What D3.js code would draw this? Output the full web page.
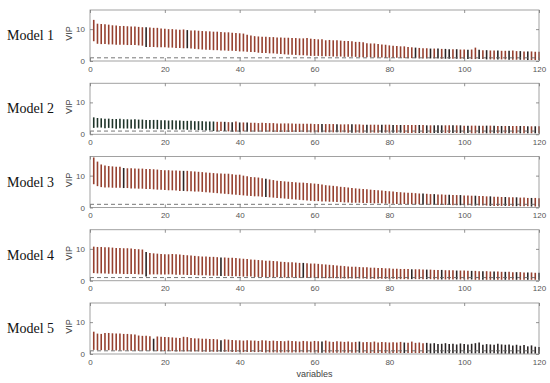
<!DOCTYPE html>
<html>
<head>
<meta charset="utf-8">
<script src="https://cdn.jsdelivr.net/npm/d3@7"></script>
<style>
  body { margin: 0; background: #fff; }
  svg text { font-family: Arial, "Liberation Sans", sans-serif; }
</style>
</head>
<body>
<div id="my_dataviz"></div>
<script>
// models (panel titles)
var models = ["Model 1", "Model 2", "Model 3", "Model 4", "Model 5"];
var xTicks = [0, 20, 40, 60, 80, 100, 120];
var yTicks = [0, 10];
var threshold = 1;

// upper / lower VIP bounds per variable (1..120)
var model1High = [12.9,11.7,11.6,11.5,11.4,11.2,11.1,11.0,11.0,10.9, 10.8,10.8,10.7,10.6,10.6,10.5,10.4,10.4,10.2,10.1,
  10.0,10.0,9.9,9.8,9.9,9.7,9.6,9.6,9.5,9.4, 9.3,9.3,9.2,9.2,9.1,9.0,9.0,8.9,8.8,8.7,
  8.6,8.2,8.0,7.8,7.7,7.6,7.6,7.5,7.5,7.4, 7.4,7.3,7.3,7.2,7.2,7.1,7.1,7.2,7.0,6.9,
  6.8,6.8,6.5,6.6,6.5,6.5,6.4,6.3,6.3,6.2, 6.0,6.0,5.9,5.6,5.5,5.5,5.3,5.2,5.1,4.9,
  4.8,4.7,4.6,4.6,4.4,4.3,4.2,4.1,4.0,4.0, 3.9,3.9,3.9,3.8,3.8,3.7,3.7,3.7,3.6,3.6,
  3.5,3.6,4.2,3.5,3.4,3.4,3.3,3.3,3.3,3.2, 3.2,3.2,3.3,3.1,3.1,3.0,3.0,3.0,2.9,2.9];
var model1Low = [6.2,5.4,5.3,5.3,5.2,5.2,5.1,5.1,5.1,5.0, 5.0,5.0,4.9,4.8,4.4,4.4,4.4,4.3,4.3,4.3,
  4.2,4.2,4.1,4.1,4.0,4.0,3.9,3.8,3.7,3.6, 3.5,3.5,3.4,3.4,3.3,3.3,3.2,3.2,3.1,3.0,
  3.0,2.9,2.8,2.8,2.6,2.5,2.5,2.4,2.4,2.3, 2.2,2.1,2.0,2.0,1.9,1.8,1.8,1.7,1.6,1.6,
  1.6,1.5,1.5,1.5,1.4,1.4,1.4,1.3,1.3,1.3, 1.3,1.2,1.2,1.2,1.2,1.1,1.1,1.1,1.0,1.0,
  1.0,1.0,1.0,0.9,0.9,0.9,0.9,0.8,0.8,0.8, 0.8,0.8,0.8,0.7,0.7,0.7,0.7,0.7,0.7,0.6,
  0.6,0.6,0.6,0.6,0.6,0.5,0.5,0.5,0.5,0.5, 0.5,0.4,0.4,0.4,0.4,0.4,0.3,0.3,0.3,0.3];

var model2High = [5.3,5.1,5.0,4.9,4.9,4.8,4.8,4.9,4.7,4.7, 4.6,4.7,4.6,4.6,4.5,4.5,4.5,4.5,4.4,4.4,
  4.3,4.4,4.3,4.3,4.2,4.2,4.2,4.1,4.1,4.1, 4.0,4.0,4.0,3.9,3.9,3.9,3.8,3.8,4.0,3.7,
  3.7,3.7,3.6,3.6,3.5,3.6,3.5,3.5,3.5,3.4, 3.4,3.4,3.4,3.4,3.3,3.3,3.3,3.3,3.3,3.2,
  3.2,3.2,3.2,3.2,3.2,3.1,3.1,3.1,3.1,3.1, 3.1,3.1,3.0,3.0,3.0,3.0,3.0,3.0,3.0,3.0,
  2.9,2.9,2.9,2.9,2.9,2.9,2.9,2.9,2.9,2.8, 2.8,2.8,2.8,2.8,2.8,2.8,2.8,2.8,2.8,2.7,
  2.7,2.7,2.7,2.7,2.7,2.7,2.7,2.7,2.6,2.6, 2.6,2.6,2.6,2.6,2.6,2.6,2.5,2.5,2.5,2.5];
var model2Low = [2.0,2.1,2.1,1.9,2.0,1.9,1.7,1.9,1.8,1.8, 1.8,1.7,1.8,1.7,1.7,1.7,1.7,1.6,1.6,1.6,
  1.6,1.5,1.5,1.5,1.5,1.4,1.4,1.4,1.3,1.3, 1.2,1.2,1.0,0.9,1.0,1.0,0.9,0.8,0.8,0.7,
  0.9,0.9,0.8,0.8,0.8,0.8,0.8,0.8,0.7,0.7, 0.7,0.7,0.7,0.7,0.7,0.7,0.7,0.6,0.6,0.6,
  0.6,0.6,0.6,0.6,0.6,0.6,0.6,0.6,0.5,0.5, 0.5,0.5,0.5,0.5,0.5,0.5,0.5,0.5,0.5,0.5,
  0.5,0.5,0.5,0.4,0.4,0.4,0.4,0.4,0.4,0.4, 0.4,0.4,0.4,0.4,0.4,0.4,0.4,0.4,0.4,0.4,
  0.4,0.3,0.3,0.3,0.3,0.3,0.3,0.3,0.3,0.3, 0.3,0.3,0.3,0.3,0.3,0.3,0.3,0.3,0.3,0.3];

var model3High = [15.7,14.4,13.5,13.2,13.0,12.9,12.8,12.8,12.4,12.3, 12.3,12.2,12.2,12.2,12.1,12.1,12.0,11.9,11.8,11.7,
  11.7,11.6,11.6,11.5,11.5,11.5,11.4,11.3,11.2,11.1, 11.0,10.9,10.8,10.7,10.7,10.6,10.6,10.4,10.3,10.3,
  10.0,9.8,9.6,9.5,9.4,9.2,9.0,8.8,8.6,8.4, 8.3,8.2,8.1,8.0,7.9,7.8,7.8,7.7,7.6,7.5,
  7.4,7.2,7.0,6.9,6.8,6.7,6.5,6.4,6.3,6.1, 6.0,5.9,5.8,5.7,5.6,5.5,5.4,5.3,5.2,5.1,
  5.0,4.9,4.8,4.7,4.6,4.6,4.5,4.4,4.4,4.3, 4.2,4.2,4.1,4.1,4.0,4.0,3.9,3.9,3.9,3.8,
  3.8,3.7,3.7,3.6,3.6,3.5,3.5,3.4,3.4,3.3, 3.3,3.2,3.2,3.2,3.1,3.1,3.0,3.0,3.0,2.9];
var model3Low = [7.3,6.7,6.4,6.3,6.3,6.2,6.2,6.2,6.1,6.1, 6.0,6.0,5.9,5.9,5.8,5.8,5.7,5.6,5.6,5.5,
  5.4,5.4,5.3,5.2,5.2,5.1,5.1,5.0,5.0,4.9, 4.8,4.7,4.6,4.5,4.4,4.3,4.2,4.1,4.0,3.9,
  3.8,3.7,3.6,3.5,3.5,3.4,3.3,3.2,3.1,3.0, 2.9,2.8,2.7,2.6,2.5,2.4,2.3,2.2,2.1,2.0,
  2.0,1.9,1.9,1.8,1.8,1.7,1.7,1.6,1.6,1.5, 1.5,1.5,1.4,1.4,1.4,1.3,1.3,1.3,1.2,1.2,
  1.2,1.1,1.1,1.1,1.0,1.0,1.0,1.0,0.9,0.9, 0.9,0.9,0.8,0.8,0.8,0.8,0.7,0.7,0.7,0.7,
  0.7,0.6,0.6,0.6,0.6,0.6,0.5,0.5,0.5,0.5, 0.5,0.5,0.4,0.4,0.4,0.4,0.4,0.3,0.3,0.3];

var model4High = [10.7,10.6,10.6,10.5,10.5,10.4,10.3,10.3,10.2,10.2, 10.1,10.0,9.9,9.8,9.0,8.7,8.6,8.5,8.4,8.3,
  8.3,8.4,8.3,8.2,8.1,8.0,7.9,7.8,7.7,7.6, 7.6,7.5,7.5,7.4,7.3,7.3,7.2,7.2,7.1,7.0,
  6.9,6.8,6.7,6.6,6.5,6.4,6.3,6.3,6.2,6.1, 6.0,5.9,5.8,5.8,5.7,5.6,5.6,5.5,5.4,5.4,
  5.3,5.2,5.1,5.0,4.9,4.8,4.7,4.6,4.5,4.4, 4.4,4.3,4.2,4.2,4.1,4.1,4.0,4.0,3.9,3.9,
  3.8,3.8,3.7,3.7,3.7,3.6,3.6,3.6,3.5,3.5, 3.5,3.4,3.4,3.4,3.3,3.3,3.3,3.2,3.2,3.2,
  3.1,3.1,3.1,3.0,3.0,3.0,2.9,2.9,2.9,2.8, 2.8,2.8,2.7,2.7,2.7,2.6,2.6,2.6,2.5,2.5];
var model4Low = [2.4,2.3,2.3,2.3,2.2,2.2,2.2,2.2,2.1,2.1, 2.1,2.1,2.0,2.0,1.3,2.0,2.0,2.0,2.0,2.0,
  2.0,2.0,1.9,1.9,1.9,1.8,1.8,1.8,1.7,1.7, 1.7,1.6,1.6,1.6,1.5,1.5,1.5,1.4,1.4,1.4,
  1.3,1.3,1.3,1.2,1.2,1.2,1.2,1.1,1.1,1.1, 1.1,1.0,1.0,1.0,1.0,0.9,0.9,0.9,0.9,0.9,
  0.8,0.8,0.8,0.8,0.8,0.8,0.7,0.7,0.7,0.7, 0.7,0.7,0.7,0.6,0.6,0.6,0.6,0.6,0.6,0.6,
  0.6,0.5,0.5,0.5,0.5,0.5,0.5,0.5,0.5,0.5, 0.5,0.4,0.4,0.4,0.4,0.4,0.4,0.4,0.4,0.4,
  0.4,0.4,0.3,0.3,0.3,0.3,0.3,0.3,0.3,0.3, 0.3,0.3,0.3,0.3,0.3,0.3,0.3,0.3,0.3,0.3];

var model5High = [7.0,6.4,6.3,6.6,6.6,6.5,6.4,6.4,6.3,6.3, 6.2,6.1,5.8,5.7,5.7,5.6,4.8,5.5,5.4,5.3,
  5.3,5.2,5.1,5.0,5.4,5.3,5.0,4.9,4.9,4.8, 4.8,4.7,4.7,4.6,4.3,4.6,4.5,4.4,4.3,4.3,
  4.2,4.3,4.2,4.2,4.1,4.3,4.2,4.1,4.2,4.1, 4.1,4.0,4.2,4.1,4.0,3.9,4.1,4.0,3.9,4.1,
  4.0,3.9,4.2,3.9,3.8,4.0,3.9,3.8,3.9,3.7, 3.8,3.9,3.7,3.8,3.7,3.9,3.6,3.8,3.7,3.6,
  3.7,3.6,3.8,3.6,3.5,3.9,3.5,3.6,3.4,3.5, 3.3,3.4,3.1,3.2,3.4,3.1,3.2,3.0,3.3,3.1,
  3.0,3.2,3.4,3.6,2.9,3.1,3.0,2.9,3.2,3.0, 2.9,3.0,2.7,2.9,2.6,2.8,2.4,2.7,2.3,2.2];
var model5Low = [1.3,1.2,1.2,1.2,1.2,1.1,1.1,1.1,1.1,1.1, 1.0,1.0,1.0,1.0,1.0,1.0,0.9,0.9,0.9,0.9,
  0.9,0.9,0.8,0.8,0.8,0.8,0.8,0.8,0.8,0.7, 0.7,0.7,0.7,0.7,0.7,0.7,0.7,0.6,0.6,0.6,
  0.6,0.6,0.6,0.6,0.6,0.6,0.5,0.5,0.5,0.5, 0.5,0.5,0.5,0.5,0.5,0.5,0.5,0.5,0.5,0.5,
  0.4,0.4,0.4,0.4,0.4,0.4,0.4,0.4,0.4,0.4, 0.4,0.4,0.4,0.3,0.3,0.3,0.3,0.3,0.3,0.3,
  0.3,0.3,0.3,0.3,0.3,0.3,0.3,0.3,0.3,0.3, 0.2,0.2,0.2,0.2,0.2,0.2,0.2,0.2,0.2,0.2,
  0.2,0.2,0.2,0.2,0.2,0.2,0.2,0.2,0.1,0.1, 0.1,0.1,0.1,0.1,0.1,0.1,0.1,0.1,0.1,0.1];

// variables drawn in the dark colour (the rest are red)
var model1Dark = [15, 26, 87, 91, 93, 95, 96, 98, 101, 104, 106, 109, 112, 115, 117];
var model2Dark = d3.range(1, 34).concat([36, 38, 40, 42, 62, 66, 70, 74, 78, 81, 83, 88, 90, 92, 93, 94, 97, 99, 101, 104, 106, 108, 110, 112, 115, 117, 119]);
var model3Dark = [9, 25, 47, 89, 92, 96, 99, 103, 107, 111, 114, 118];
var model4Dark = [15, 35, 57, 86, 90, 94, 98, 102, 105, 108, 111, 114, 117, 120];
var model5Dark = [17, 35, 62, 72, 84].concat(d3.range(90, 121));

var highs = [model1High, model2High, model3High, model4High, model5High];
var lows = [model1Low, model2Low, model3Low, model4Low, model5Low];
var darks = [model1Dark, model2Dark, model3Dark, model4Dark, model5Dark];

// layout
var W = 550, H = 383;
var left = 90, right = 539;
var panelTop0 = 10, panelStep = 73.25, panelH = 51;

var svg = d3.select("#my_dataviz")
    .append("svg")
    .attr("width", W)
    .attr("height", H);

var x = d3.scaleLinear().domain([0, 120]).range([left, right]);

models.forEach(function(name, i) {
    var top = panelTop0 + i * panelStep;
    var y = d3.scaleLinear().domain([0, 16]).range([top + panelH, top]);

    var g = svg.append("g");

    // bars (error bars low -> high)
    var rows = highs[i].map(function(h, k) {
        return {v: k + 1, hi: h, lo: lows[i][k], dark: darks[i].indexOf(k + 1) >= 0};
    });
    g.selectAll("line.bar")
        .data(rows)
        .enter()
        .append("line")
        .attr("class", "bar")
        .attr("x1", function(d) { return x(d.v); })
        .attr("x2", function(d) { return x(d.v); })
        .attr("y1", function(d) { return y(d.lo); })
        .attr("y2", function(d) { return y(d.hi); })
        .attr("stroke", function(d) {
            if (d.dark) return i == 1 && d.v < 34 ? "#1e3328" : "#2a2424";
            return "#96402f";
        })
        .attr("stroke-width", 1.6);

    // threshold line
    g.append("line")
        .attr("x1", left).attr("x2", right)
        .attr("y1", y(threshold)).attr("y2", y(threshold))
        .attr("stroke", "#666")
        .attr("stroke-width", 0.9)
        .attr("stroke-dasharray", "4,3");

    // frame
    g.append("rect")
        .attr("x", left).attr("y", top)
        .attr("width", right - left).attr("height", panelH)
        .attr("fill", "none")
        .attr("stroke", "#8a8a8a")
        .attr("stroke-width", 0.8);

    // axes (inside ticks, mirrored)
    var xb = g.append("g")
        .attr("transform", "translate(0," + (top + panelH) + ")")
        .call(d3.axisBottom(x).tickValues(xTicks).tickSizeInner(-3).tickSizeOuter(0).tickPadding(5));
    var xt = g.append("g")
        .attr("transform", "translate(0," + top + ")")
        .call(d3.axisTop(x).tickValues(xTicks).tickSizeInner(-3).tickSizeOuter(0).tickFormat(""));
    var yl = g.append("g")
        .attr("transform", "translate(" + left + ",0)")
        .call(d3.axisLeft(y).tickValues(yTicks).tickSizeInner(-3).tickSizeOuter(0).tickPadding(5));
    var yr = g.append("g")
        .attr("transform", "translate(" + right + ",0)")
        .call(d3.axisRight(y).tickValues(yTicks).tickSizeInner(-3).tickSizeOuter(0).tickFormat(""));

    [xb, xt, yl, yr].forEach(function(a) {
        a.select(".domain").remove();
        a.selectAll(".tick line").attr("stroke", "#777").attr("stroke-width", 0.8);
        a.selectAll("text").attr("fill", "#555").style("font-size", "8px");
    });

    // y label
    g.append("text")
        .attr("transform", "translate(" + 72 + "," + (top + panelH / 2 - 2) + ")rotate(-90)")
        .attr("text-anchor", "middle")
        .style("font-size", "9px")
        .attr("fill", "#444")
        .text("VIP");

    // model name
    g.append("text")
        .attr("x", 7)
        .attr("y", top + panelH / 2 + 4.5)
        .style("font-family", "'Liberation Serif', 'Times New Roman', serif")
        .style("font-size", "14px")
        .attr("fill", "#111")
        .text(name);
});

// x label
svg.append("text")
    .attr("x", (left + right) / 2)
    .attr("y", 377)
    .attr("text-anchor", "middle")
    .style("font-size", "9px")
    .attr("fill", "#444")
    .text("variables");
</script>
</body>
</html>
